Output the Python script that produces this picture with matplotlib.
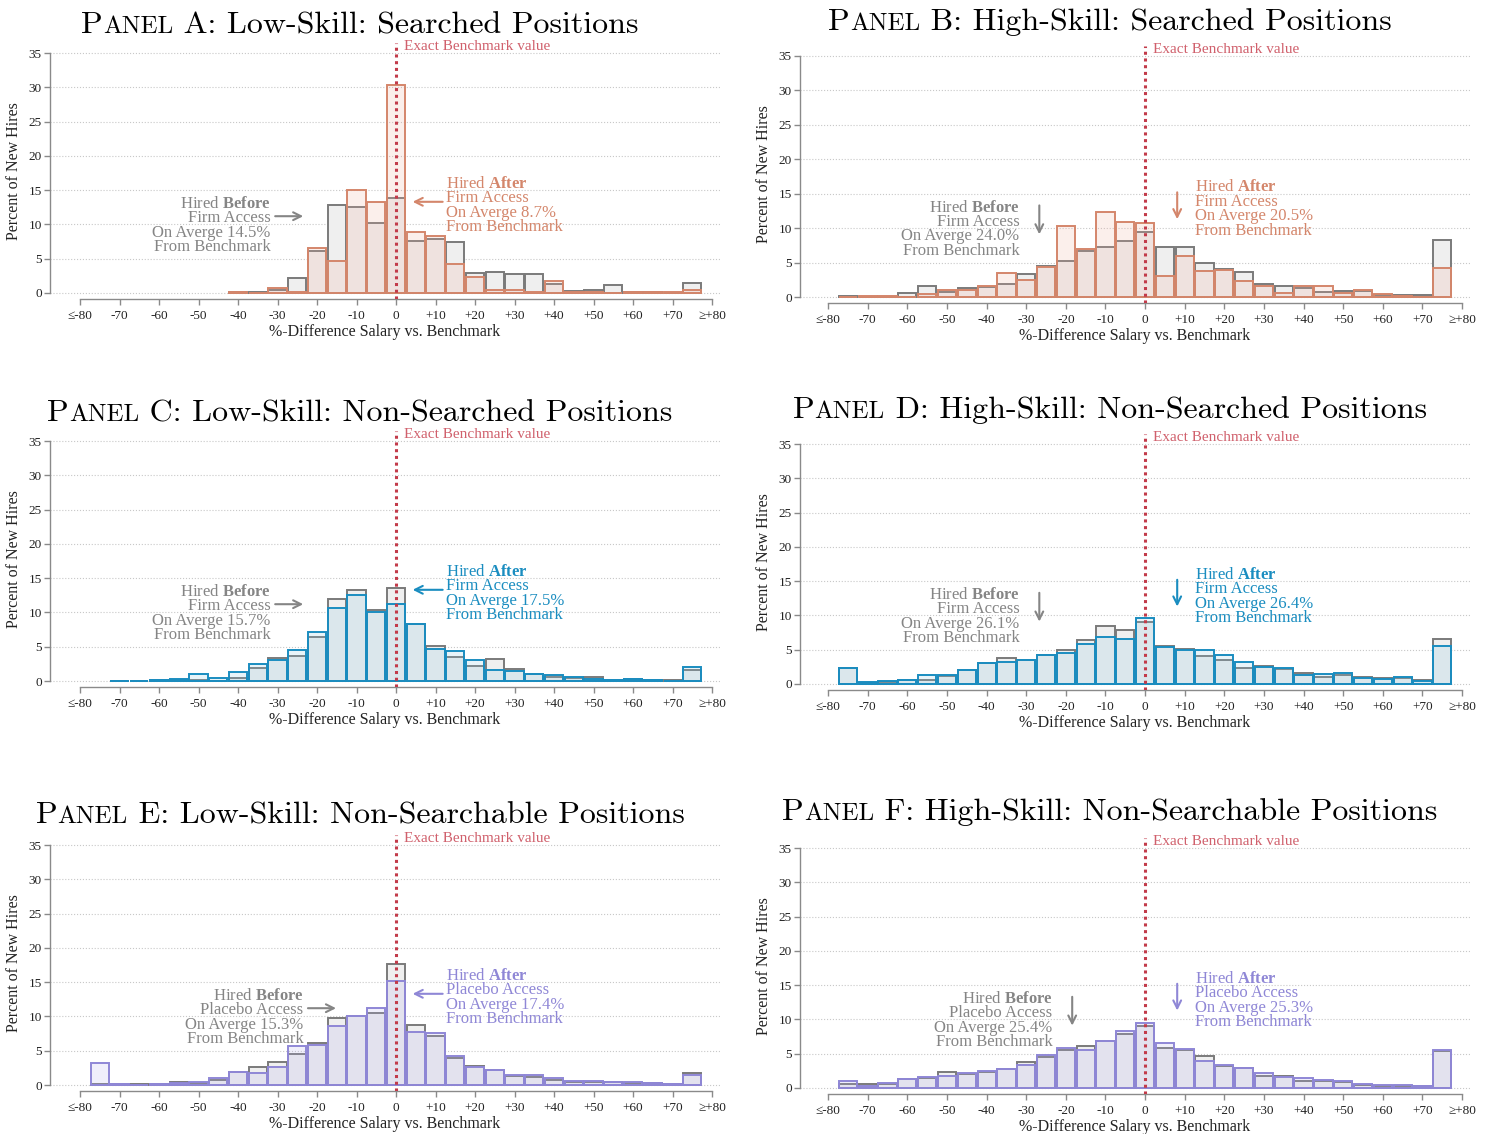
import numpy as np
import matplotlib.pyplot as plt
from matplotlib.colors import to_rgba
from matplotlib.offsetbox import TextArea, HPacker, AnnotationBbox

plt.rcParams['font.family'] = ['Liberation Serif', 'DejaVu Serif']
plt.rcParams['mathtext.fontset'] = 'custom'
plt.rcParams['mathtext.rm'] = 'Liberation Serif'
plt.rcParams['mathtext.bf'] = 'Liberation Serif:bold'

# ---- data: percent of new hires per 5-pt salary bin (bin centres) ----
bins_a = np.arange(-40, 80, 5)
before_a = [0.1, 0.1, 0.5, 2.2, 6.1, 12.8, 12.5, 10.2, 13.8, 7.6, 7.9, 7.4,
            2.9, 3.1, 2.7, 2.7, 1.3, 0.3, 0.4, 1.1, 0.2, 0.2, 0.05, 1.5]
after_a = [0.2, 0.0, 0.7, 0.2, 6.5, 4.7, 15.0, 13.3, 30.3, 8.9, 8.3, 4.2,
           2.3, 0.4, 0.5, 0.2, 1.7, 0.2, 0.1, 0.0, 0.1, 0.1, 0.2, 0.4]

bins_b = np.arange(-75, 80, 5)
before_b = [0.1, 0.05, 0.05, 0.54, 1.56, 0.73, 1.27, 1.41, 1.9, 3.3, 4.5, 5.2,
            6.7, 7.3, 8.15, 9.4, 7.2, 7.3, 5.0, 4.05, 3.56, 1.95, 1.66, 1.32,
            0.78, 0.93, 0.83, 0.34, 0.34, 0.34, 8.3]
after_b = [0.0, 0.2, 0.15, 0.05, 0.5, 1.07, 0.98, 1.66, 3.5, 2.44, 4.4, 10.3,
           6.9, 12.3, 10.9, 10.7, 3.0, 5.9, 3.76, 3.9, 2.3, 1.56, 0.59, 1.56,
           1.6, 0.59, 1.07, 0.49, 0.1, 0.0, 4.2]

bins_c = np.arange(-70, 80, 5)
before_c = [0.0, 0.0, 0.1, 0.2, 0.1, 0.0, 0.44, 1.84, 3.3, 3.6, 6.46, 11.9,
            13.25, 10.4, 13.6, 8.3, 5.05, 3.54, 2.14, 3.2, 1.8, 1.0, 0.53, 0.44,
            0.53, 0.2, 0.34, 0.1, 0.15, 1.55]
after_c = [0.05, 0.05, 0.1, 0.25, 0.97, 0.39, 1.26, 2.5, 3.0, 4.5, 7.1, 10.6,
           12.5, 10.1, 11.2, 8.3, 4.66, 4.4, 3.06, 1.65, 1.5, 1.07, 0.83, 0.63,
           0.34, 0.2, 0.25, 0.15, 0.05, 2.1]

bins_d = np.arange(-75, 80, 5)
before_d = [2.28, 0.2, 0.3, 0.58, 0.63, 1.17, 2.1, 3.06, 3.8, 3.5, 4.3, 4.95,
            6.4, 8.45, 7.86, 9.08, 5.53, 5.1, 4.08, 3.5, 2.33, 2.62, 2.23, 1.55,
            1.07, 1.36, 1.0, 0.87, 0.92, 0.58, 6.6]
after_d = [2.28, 0.3, 0.4, 0.63, 1.26, 1.3, 2.1, 3.06, 3.25, 3.5, 4.3, 4.5,
           5.9, 6.85, 6.5, 9.56, 5.44, 5.0, 4.95, 4.17, 3.16, 2.5, 2.38, 1.36,
           1.46, 1.6, 0.87, 0.73, 0.97, 0.49, 5.53]

bins_e = np.arange(-75, 80, 5)
before_e = [0.1, 0.1, 0.1, 0.1, 0.44, 0.34, 0.73, 1.84, 2.67, 3.4, 4.47, 6.07,
            9.7, 10.1, 10.5, 17.6, 8.7, 7.15, 3.98, 2.8, 2.17, 1.3, 1.16, 0.68,
            0.48, 0.44, 0.39, 0.29, 0.24, 0.2, 1.8]
after_e = [3.23, 0.15, 0.05, 0.1, 0.34, 0.44, 1.07, 1.84, 1.7, 2.67, 5.7, 5.9,
           8.6, 10.1, 11.3, 15.2, 7.7, 7.6, 4.17, 2.67, 2.17, 1.45, 1.45, 0.97,
           0.63, 0.53, 0.48, 0.39, 0.29, 0.15, 1.5]

bins_f = np.arange(-75, 80, 5)
before_f = [0.58, 0.53, 0.53, 1.26, 1.46, 2.38, 2.0, 2.33, 2.77, 3.83, 4.5, 5.5,
            6.1, 6.8, 7.86, 9.08, 5.87, 5.53, 4.6, 3.2, 2.86, 1.8, 1.7, 1.07,
            1.07, 0.87, 0.49, 0.29, 0.34, 0.34, 5.44]
after_f = [1.07, 0.29, 0.73, 1.36, 1.6, 1.8, 2.14, 2.52, 2.82, 3.35, 4.8, 5.83,
           5.6, 6.85, 8.35, 9.47, 6.55, 5.63, 4.0, 3.35, 2.96, 2.23, 1.65, 1.46,
           1.17, 1.02, 0.58, 0.44, 0.39, 0.34, 5.6]

mean_before = [14.5, 24.0, 15.7, 26.1, 15.3, 25.4]
mean_after = [8.7, 20.5, 17.5, 26.4, 17.4, 25.3]

letters = ['A', 'B', 'C', 'D', 'E', 'F']
titles = ['Low-Skill: Searched Positions', 'High-Skill: Searched Positions',
          'Low-Skill: Non-Searched Positions', 'High-Skill: Non-Searched Positions',
          'Low-Skill: Non-Searchable Positions', 'High-Skill: Non-Searchable Positions']
access = ['Firm Access', 'Firm Access', 'Firm Access', 'Firm Access',
          'Placebo Access', 'Placebo Access']

xtick_vals = np.arange(-80, 81, 10)
xtick_labels = ['≤-80'] + [str(v) for v in range(-70, 1, 10)] + \
               ['+%d' % v for v in range(10, 71, 10)] + ['≥+80']

GRAY_E = '#7a7a7a'
GRAY_F = '#efefef'
GRAY_T = '#858585'
ORANGE = ('#d4866b', '#efaf9f')
BLUE = ('#1a8dc0', '#8cc8e1')
PURPLE = ('#8f87d6', '#b4afeb')
colours = [ORANGE, ORANGE, BLUE, BLUE, PURPLE, PURPLE]

W, H = 1489, 1134
fig = plt.figure(figsize=(W / 100, H / 100), dpi=100)

# x0, x1, pixel of y=0, pixels per unit, title centre x, title bottom y
geom = [(50, 720, 293, 6.857, 360, 39),
        (800, 1470, 297, 6.886, 1110, 36),
        (50, 720, 681, 6.857, 360, 427),
        (800, 1470, 684, 6.857, 1110, 424),
        (50, 720, 1085, 6.857, 360, 829),
        (800, 1470, 1088, 6.857, 1110, 826)]

YLO, YHI = -0.9, 36.5
data = [(bins_a, before_a, after_a), (bins_b, before_b, after_b),
        (bins_c, before_c, after_c), (bins_d, before_d, after_d),
        (bins_e, before_e, after_e), (bins_f, before_f, after_f)]

for i in range(6):
    x0, x1, y0, s, tx, ty = geom[i]
    ybot = y0 - YLO * s
    ytop = y0 - YHI * s
    ax = fig.add_axes([x0 / W, 1 - ybot / H, (x1 - x0) / W, (ybot - ytop) / H])
    bins, before, after = data[i]
    edge, fill = colours[i]
    left = i % 2 == 0

    ax.bar(bins, before, width=4.6, color=GRAY_F, edgecolor=GRAY_E, linewidth=1.4, zorder=2)
    ax.bar(bins, after, width=4.6, color=to_rgba(fill, 0.2), edgecolor=edge,
           linewidth=1.4, zorder=3)
    ax.axvline(0, color='#c23b4a', ls=(0, (1, 1.2)), lw=2.2, zorder=4)
    ax.text(2.0, 36.0, 'Exact Benchmark value', color='#d0606c', fontsize=11, va='center')

    ax.set_xlim(-87.6 if left else -87.1, 82)
    ax.set_ylim(YLO, YHI)
    ax.set_yticks(np.arange(0, 36, 5))
    ax.set_xticks(xtick_vals)
    ax.set_xticklabels(xtick_labels)
    ax.yaxis.grid(True, ls=':', color='#c8c8c8', lw=0.8, zorder=0)
    ax.set_axisbelow(True)
    for sp in ['top', 'right']:
        ax.spines[sp].set_visible(False)
    ax.spines['left'].set_bounds(0, 35)
    ax.spines['bottom'].set_bounds(-80, 80)
    for sp in ['left', 'bottom']:
        ax.spines[sp].set_color('#8a8a8a')
        ax.spines[sp].set_linewidth(1.0)
    ax.tick_params(axis='both', colors='#8a8a8a', labelcolor='#222222', labelsize=9.5,
                   length=4, width=1.0)
    ax.tick_params(axis='y', pad=2)
    ax.set_ylabel('Percent of New Hires', fontsize=11.5, color='#222222')
    ax.yaxis.set_label_coords(-0.042, 0.5)
    ax.set_xlabel('%-Difference Salary vs. Benchmark', fontsize=11.5, color='#222222')
    ax.xaxis.set_label_coords(0.5, -0.095)

    # annotation blocks (one multi-line text each)
    gx = -23.4 if i >= 4 else -31.7
    cx = 12.6
    g_text = '\n'.join([r'Hired $\mathbf{Before}$', access[i],
                        'On Averge %.1f%%' % mean_before[i], 'From Benchmark'])
    c_text = '\n'.join([r'Hired $\mathbf{After}$', access[i],
                        'On Averge %.1f%%' % mean_after[i], 'From Benchmark'])
    ax.text(gx, 9.84, g_text, ha='right', va='center', color=GRAY_T,
            fontsize=12, linespacing=0.87, zorder=5)
    ax.text(cx, 12.76, c_text, ha='left', va='center', color=edge,
            fontsize=12, linespacing=0.87, zorder=5)

    ap_g = dict(arrowstyle='->', color=GRAY_T, lw=1.5, mutation_scale=14, shrinkA=0, shrinkB=0)
    ap_c = dict(arrowstyle='->', color=edge, lw=1.5, mutation_scale=14, shrinkA=0, shrinkB=0)
    if left:
        ga = -22.3 if i >= 4 else -30.6
        ax.annotate('', xy=(ga + 7.1, 11.2), xytext=(ga, 11.2), arrowprops=ap_g)
        ax.annotate('', xy=(4.2, 13.3), xytext=(11.8, 13.3), arrowprops=ap_c)
    else:
        ga = -18.4 if i >= 4 else -26.7
        ax.annotate('', xy=(ga, 9.1), xytext=(ga, 13.3), arrowprops=ap_g)
        ax.annotate('', xy=(8.1, 11.3), xytext=(8.1, 15.2), arrowprops=ap_c)

    # title with small caps "Panel"
    tp = dict(family='cmr10', color='black')
    parts = [TextArea('P', textprops=dict(size=23, **tp)),
             TextArea('ANEL', textprops=dict(size=18, **tp)),
             TextArea(' %s: %s' % (letters[i], titles[i]), textprops=dict(size=23, **tp))]
    hp = HPacker(children=parts, align='baseline', pad=0, sep=0)
    ab = AnnotationBbox(hp, (tx / W, 1 - ty / H), xycoords='figure fraction',
                        frameon=False, box_alignment=(0.5, 0.0), pad=0)
    fig.add_artist(ab)

fig.savefig('out.png', dpi=100)
